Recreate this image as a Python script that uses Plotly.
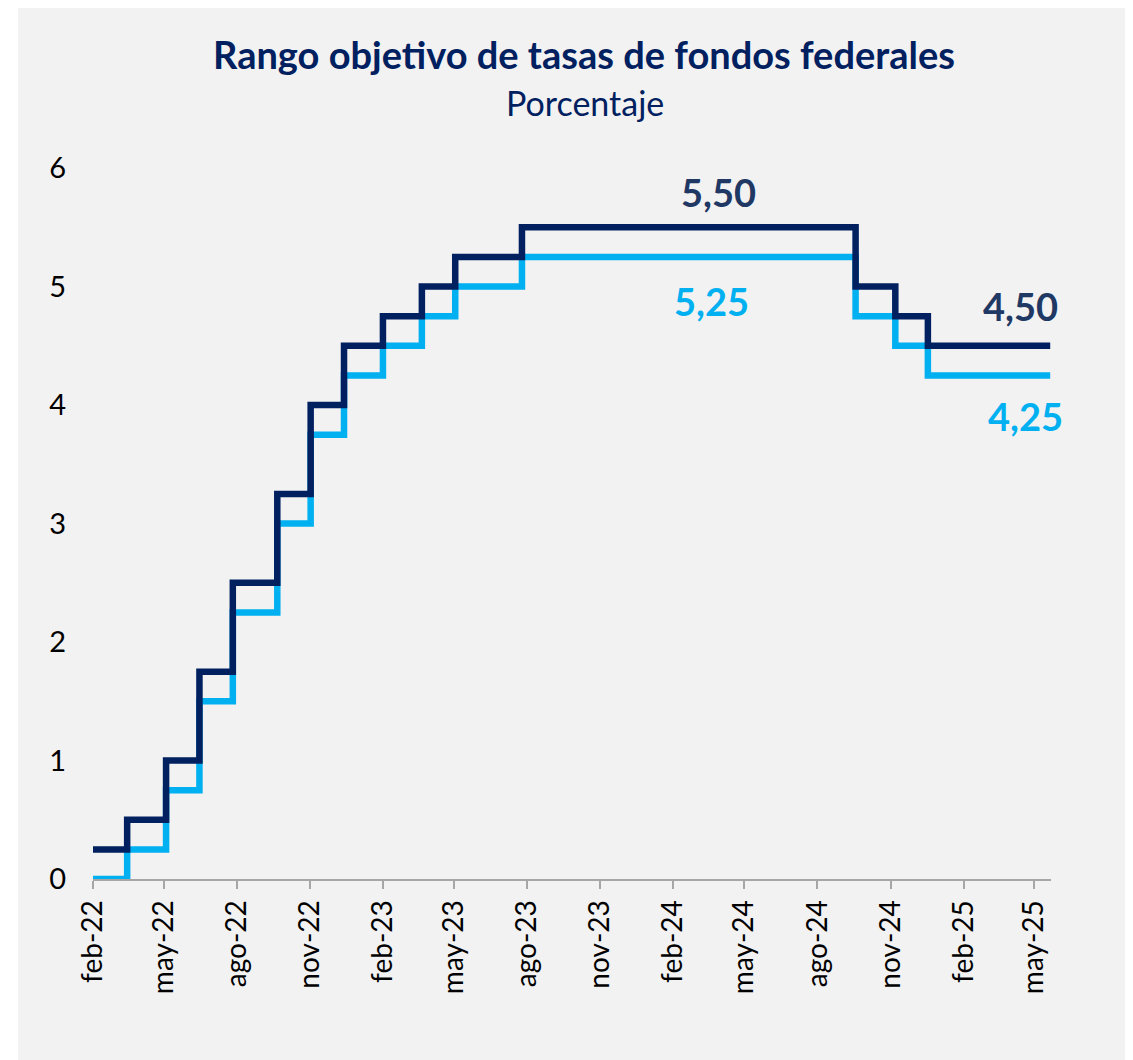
import plotly.graph_objects as go

# --- Data -------------------------------------------------------------
change_dates = [
    "2022-02-01", "2022-03-16", "2022-05-04", "2022-06-15", "2022-07-27",
    "2022-09-21", "2022-11-02", "2022-12-14", "2023-02-01", "2023-03-22",
    "2023-05-03", "2023-07-26", "2024-09-18", "2024-11-07", "2024-12-18",
    "2025-05-21",
]
upper_bound = [0.25, 0.50, 1.00, 1.75, 2.50, 3.25, 4.00, 4.50, 4.75, 5.00,
               5.25, 5.50, 5.00, 4.75, 4.50, 4.50]
lower_bound = [0.00, 0.25, 0.75, 1.50, 2.25, 3.00, 3.75, 4.25, 4.50, 4.75,
               5.00, 5.25, 4.75, 4.50, 4.25, 4.25]

tick_dates = [
    "2022-02-01", "2022-05-01", "2022-08-01", "2022-11-01", "2023-02-01",
    "2023-05-01", "2023-08-01", "2023-11-01", "2024-02-01", "2024-05-01",
    "2024-08-01", "2024-11-01", "2025-02-01", "2025-05-01",
]
tick_labels = [
    "feb-22", "may-22", "ago-22", "nov-22", "feb-23", "may-23", "ago-23",
    "nov-23", "feb-24", "may-24", "ago-24", "nov-24", "feb-25", "may-25",
]
y_ticks = [0, 1, 2, 3, 4, 5, 6]

title_text = "Rango objetivo de tasas de fondos federales"
subtitle_text = "Porcentaje"

NAVY = "#002060"
LIGHT = "#00b0f0"
LABEL_NAVY = "#1f3864"
BG = "#f2f2f2"
FONT = "Lato"

# page body has an 8px default margin; figure coordinates = screen - 8
OFF = 8
W, H = 1133 - OFF, 1060 - OFF
L, R, T, B = 93 - OFF, 82, 168 - OFF, 181
pw, ph = W - L - R, H - T - B


def px_x(px):
    """screen pixel x -> paper coordinate"""
    return (px - OFF - L) / pw


def px_y(py):
    """screen pixel y -> paper coordinate"""
    return (H - B - (py - OFF)) / ph


fig = go.Figure()
fig.add_trace(go.Scatter(
    x=change_dates, y=lower_bound, mode="lines", line_shape="hv",
    line=dict(color=LIGHT, width=6.5), name="Límite inferior",
))
fig.add_trace(go.Scatter(
    x=change_dates, y=upper_bound, mode="lines", line_shape="hv",
    line=dict(color=NAVY, width=6.5), name="Límite superior",
))

annotations = [
    dict(text=title_text, x=px_x(584), y=px_y(54), xref="paper", yref="paper",
         showarrow=False, xanchor="center", yanchor="middle",
         font=dict(family=FONT, size=38, color=NAVY, weight="bold")),
    dict(text=subtitle_text, x=px_x(585), y=px_y(102), xref="paper", yref="paper",
         showarrow=False, xanchor="center", yanchor="middle",
         font=dict(family=FONT, size=34, color=NAVY)),
    dict(text="5,50", x="2024-03-29", y=5.80, showarrow=False,
         font=dict(family=FONT, size=38, color=LABEL_NAVY, weight="bold")),
    dict(text="5,25", x="2024-03-21", y=4.88, showarrow=False,
         font=dict(family=FONT, size=38, color=LIGHT, weight="bold")),
    dict(text="4,50", x="2025-04-14", y=4.835, showarrow=False,
         font=dict(family=FONT, size=38, color=LABEL_NAVY, weight="bold")),
    dict(text="4,25", x="2025-04-20", y=3.907, showarrow=False,
         font=dict(family=FONT, size=38, color=LIGHT, weight="bold")),
]

fig.update_layout(
    width=W, height=H,
    margin=dict(l=L, r=R, t=T, b=B, pad=0),
    paper_bgcolor="white",
    plot_bgcolor=BG,
    showlegend=False,
    annotations=annotations,
    shapes=[dict(type="rect", xref="paper", yref="paper",
                 x0=px_x(18), x1=px_x(1133 + 10), y0=px_y(0), y1=px_y(1060 + 10),
                 fillcolor=BG, line=dict(width=0), layer="below")],
    xaxis=dict(
        type="date", range=["2022-02-01", "2025-05-22"],
        tickvals=tick_dates, ticktext=tick_labels, tickangle=-90,
        ticks="outside", ticklen=8, tickwidth=2, tickcolor="#a6a6a6",
        showline=True, linecolor="#a6a6a6", linewidth=2,
        showgrid=False, zeroline=False,
        tickfont=dict(family=FONT, size=28, color="black"),
    ),
    yaxis=dict(
        range=[0, 6], tickvals=y_ticks, ticks="", showline=False,
        showgrid=False, zeroline=False, ticklabelstandoff=26,
        tickfont=dict(family=FONT, size=29, color="black"),
    ),
)

fig.write_html("out.html")
